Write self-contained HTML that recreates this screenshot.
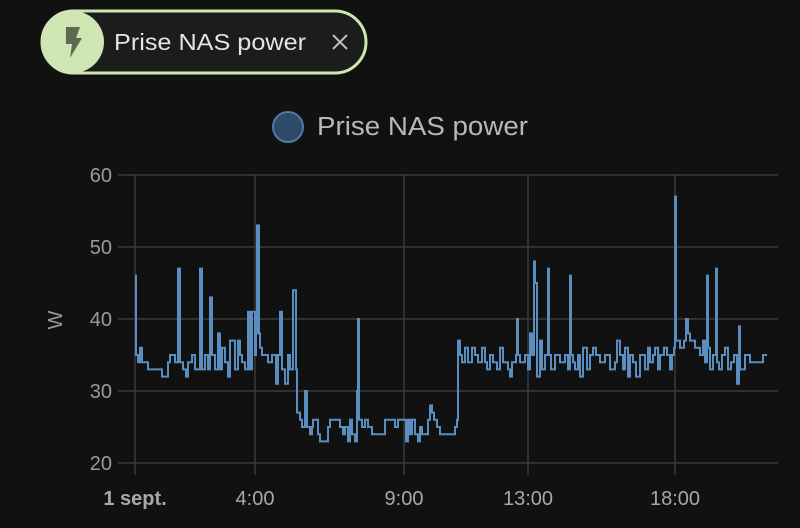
<!DOCTYPE html>
<html><head><meta charset="utf-8"><style>
html,body{margin:0;padding:0;background:#111111;width:800px;height:528px;overflow:hidden;font-family:"Liberation Sans",sans-serif}
</style></head><body>
<svg width="800" height="528" xmlns="http://www.w3.org/2000/svg" style="position:absolute;left:0;top:0">
<rect x="42" y="11" width="324" height="62" rx="31" fill="#1c1c1c" stroke="#cfe6b4" stroke-width="3"/>
<circle cx="73" cy="42" r="31" fill="#cfe6b4"/>
<path d="M66,27 L80,27 L76,38 L82,38 L70,58 L72,44 L66,44 Z" fill="#5b6a50"/>
<text x="114" y="50" font-size="23.5" fill="#e4e4e4" textLength="192" lengthAdjust="spacingAndGlyphs">Prise NAS power</text>
<path d="M333,35 L347,49 M347,35 L333,49" stroke="#bbb" stroke-width="2"/>
<circle cx="288" cy="127" r="15" fill="#2f4a68" stroke="#4d7aa8" stroke-width="2"/>
<text x="317" y="135" font-size="25.5" fill="#b8b8b8" textLength="211" lengthAdjust="spacingAndGlyphs">Prise NAS power</text>
<g stroke="#3a3a3a" stroke-width="1.5">
<line x1="118" y1="175" x2="778" y2="175"/><line x1="118" y1="247" x2="778" y2="247"/>
<line x1="118" y1="319" x2="778" y2="319"/><line x1="118" y1="391" x2="778" y2="391"/>
<line x1="118" y1="463" x2="778" y2="463"/>
<line x1="135" y1="175" x2="135" y2="475"/><line x1="255" y1="175" x2="255" y2="475"/>
<line x1="404" y1="175" x2="404" y2="475"/><line x1="528" y1="175" x2="528" y2="475"/>
<line x1="675" y1="175" x2="675" y2="475"/>
</g>
<g font-size="20" fill="#9a9a9a" text-anchor="end">
<text x="112" y="182">60</text><text x="112" y="254">50</text><text x="112" y="326">40</text>
<text x="112" y="398">30</text><text x="112" y="470">20</text>
</g>
<text transform="translate(62,320) rotate(-90)" font-size="20" fill="#9a9a9a" text-anchor="middle">W</text>
<g font-size="20" fill="#a8a8a8" text-anchor="middle">
<text x="135" y="505" font-weight="bold">1 sept.</text><text x="255" y="505">4:00</text>
<text x="404" y="505">9:00</text><text x="528" y="505">13:00</text><text x="675" y="505">18:00</text>
</g>
<path id="s" fill="none" stroke="#5a8dc0" stroke-width="2"/>
</svg>
<script>
var d=[135,46,136,35,138,34,140,36,142,34,145,34,148,33,160,33,162,32,167,32,168,34,170,35,175,34,178,47,180,34,183,33,186,32,188,34,192,35,195,33,200,47,202,33,205,35,208,33,210,43,212,35,215,33,218,38,220,33,222,36,225,34,228,32,230,37,235,33,238,37,240,35,242,34,245,33,248,41,250,33,252,41,255,35,256,38,257,53,259,38,260,36,262,35,268,34,272,35,276,31,278,35,280,41,282,33,285,31,288,35,290,33,293,44,296,33,297,27,300,26,302,25,305,30,307,25,310,24,312,25,313,26,318,24,320,23,325,23,328,25,330,26,337,26,340,25,343,24,345,25,348,23,350,26,352,24,355,23,357,30,358,40,359,26,362,25,365,26,368,25,372,24,380,24,385,26,392,26,395,25,398,26,404,26,406,23,408,26,410,24,412,26,415,24,418,23,420,25,422,24,428,26,430,28,432,27,434,26,437,25,440,24,450,24,455,25,457,26,458,37,460,35,462,34,465,36,468,34,472,36,475,35,478,34,482,36,485,34,487,33,490,35,493,34,497,33,500,36,503,34,508,33,510,32,512,34,516,35,517,40,518,35,520,34,525,35,528,33,530,38,532,35,534,48,535,45,537,32,540,37,542,33,545,35,548,47,549,35,551,33,555,35,560,34,565,35,568,33,570,46,571,35,573,34,575,33,578,35,580,32,583,36,587,33,590,35,593,36,596,35,600,34,605,35,610,33,615,34,617,37,620,35,623,33,625,36,628,32,630,35,633,34,636,32,640,35,645,33,648,36,650,34,653,35,655,36,658,33,660,35,664,36,667,35,670,33,672,35,674,36,675,57,676,37,680,36,684,37,686,40,688,38,690,37,695,36,700,35,703,37,705,34,707,46,708,36,710,33,713,35,716,47,717,34,719,33,722,35,725,36,728,33,731,34,734,35,737,31,739,39,740,33,745,35,750,34,760,34,763,35,767,35];
function y(v){return 463-(v-20)*7.2}
var p="M"+d[0]+","+y(d[1]);
for(var i=2;i<d.length;i+=2){p+=" H"+d[i]+" V"+y(d[i+1]);}
document.getElementById("s").setAttribute("d",p);
</script>
</body></html>
